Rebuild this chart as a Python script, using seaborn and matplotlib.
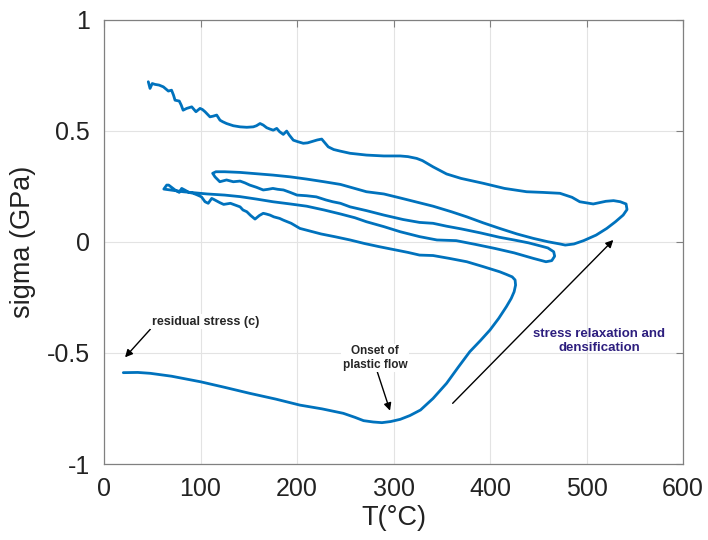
import numpy as np
import pandas as pd
import matplotlib
matplotlib.use("Agg")
import matplotlib.pyplot as plt
import seaborn as sns

# Stress-temperature history of the film, one array pair per thermal leg
heating_1_T = [20, 35, 48, 70, 100, 125, 151, 178, 203, 226, 248, 260, 269, 279, 288,
               297, 307, 317, 328, 341, 355, 367, 379, 390, 400, 409, 417, 422, 425,
               426.5, 426, 423, 417]
heating_1_sigma = [-0.589, -0.588, -0.592, -0.605, -0.630, -0.655, -0.682, -0.708, -0.735,
                   -0.752, -0.772, -0.790, -0.805, -0.811, -0.814, -0.809, -0.799, -0.782,
                   -0.757, -0.705, -0.637, -0.565, -0.495, -0.445, -0.397, -0.345, -0.292,
                   -0.255, -0.225, -0.195, -0.172, -0.158, -0.147]

cooling_1_T = [410, 393, 376, 358, 341, 327, 315, 300, 285, 270, 255, 240, 225, 212, 203,
               194, 186, 182, 176, 172, 168, 165, 161, 156.5, 152, 148, 144, 141, 136, 131,
               127, 124, 120, 117, 114, 111.6, 108, 104.7, 101, 97, 92.5, 88, 84, 80.5,
               78, 75.5, 73.6, 70, 67, 65, 62]
cooling_1_sigma = [-0.135, -0.112, -0.090, -0.075, -0.062, -0.060, -0.048, -0.035, -0.022,
                   -0.008, 0.008, 0.022, 0.035, 0.050, 0.060, 0.083, 0.097, 0.105, 0.112,
                   0.120, 0.125, 0.128, 0.118, 0.102, 0.118, 0.135, 0.143, 0.157, 0.165,
                   0.173, 0.170, 0.168, 0.176, 0.183, 0.190, 0.195, 0.173, 0.180, 0.202,
                   0.210, 0.218, 0.222, 0.232, 0.240, 0.222, 0.228, 0.233, 0.245, 0.255,
                   0.255, 0.237]

heating_2_T = [62, 70, 82, 95, 107, 125, 141, 158, 175, 193, 210, 228, 245, 260, 272, 290,
               307, 327, 345, 365, 385, 405, 425, 445, 458, 464, 467, 466]
heating_2_sigma = [0.237, 0.232, 0.225, 0.220, 0.215, 0.210, 0.203, 0.192, 0.180, 0.170,
                   0.160, 0.143, 0.125, 0.108, 0.090, 0.068, 0.045, 0.023, 0.008, 0.005,
                   -0.012, -0.030, -0.050, -0.075, -0.090, -0.085, -0.065, -0.045]

cooling_2_T = [460, 455, 440, 425, 410, 390, 370, 355, 341, 327, 310, 290, 272, 255, 245,
               237, 230, 220, 210, 200, 193, 186, 180, 175, 170, 165, 158, 151, 146, 141,
               134, 127, 120, 115, 112.6]
cooling_2_sigma = [-0.028, -0.022, -0.005, 0.008, 0.020, 0.040, 0.058, 0.070, 0.083, 0.087,
                   0.100, 0.120, 0.140, 0.157, 0.173, 0.180, 0.188, 0.202, 0.207, 0.210,
                   0.222, 0.233, 0.236, 0.240, 0.236, 0.233, 0.245, 0.255, 0.265, 0.273,
                   0.270, 0.278, 0.270, 0.292, 0.308]

heating_3_T = [116, 125, 141, 158, 175, 193, 210, 228, 245, 272, 290, 307, 327, 341, 360,
               376, 393, 410, 428, 445, 460, 472.5, 478, 487, 497, 510, 521, 530, 538, 542]
heating_3_sigma = [0.315, 0.315, 0.312, 0.306, 0.300, 0.292, 0.282, 0.270, 0.258, 0.225,
                   0.215, 0.197, 0.175, 0.160, 0.135, 0.112, 0.085, 0.060, 0.035, 0.015,
                   0.000, -0.010, -0.015, -0.010, 0.005, 0.030, 0.060, 0.090, 0.120, 0.145]

cooling_3_T = [541, 535, 528, 520, 507, 493, 485, 472.5, 455, 438, 415, 393, 370, 355, 341,
               330, 324, 315, 307, 290, 272, 255, 244.6, 238, 232.4, 225.6, 221, 217, 211,
               206.5, 201, 196.2, 192, 189.3, 185.8, 182, 179, 175.4, 172, 168.6, 165,
               161.7, 158, 154.7, 148, 141, 134, 127, 123, 120.2, 116.8, 113, 109.8, 107,
               104.7, 102, 99.5, 95.3, 90.9, 85.7, 82, 80, 78, 73.6, 72, 70, 66.7, 61.5,
               57, 52.8, 50, 47.7, 45.9]
cooling_3_sigma = [0.170, 0.180, 0.185, 0.182, 0.170, 0.180, 0.200, 0.218, 0.222, 0.225,
                   0.240, 0.263, 0.285, 0.305, 0.337, 0.365, 0.375, 0.383, 0.386, 0.386,
                   0.390, 0.398, 0.408, 0.415, 0.427, 0.462, 0.458, 0.453, 0.445, 0.443,
                   0.450, 0.457, 0.480, 0.498, 0.483, 0.495, 0.510, 0.502, 0.507, 0.513,
                   0.525, 0.532, 0.522, 0.517, 0.515, 0.517, 0.522, 0.532, 0.540, 0.547,
                   0.570, 0.565, 0.562, 0.575, 0.585, 0.595, 0.600, 0.585, 0.607, 0.600,
                   0.592, 0.615, 0.633, 0.637, 0.660, 0.682, 0.678, 0.697, 0.705, 0.708,
                   0.712, 0.690, 0.720]

x_ticks = [0, 100, 200, 300, 400, 500, 600]
y_ticks = [-1, -0.5, 0, 0.5, 1]
y_tick_labels = ["-1", "-0.5", "0", "0.5", "1"]

T_all = (heating_1_T + cooling_1_T + heating_2_T + cooling_2_T + heating_3_T + cooling_3_T)
s_all = (heating_1_sigma + cooling_1_sigma + heating_2_sigma + cooling_2_sigma
         + heating_3_sigma + cooling_3_sigma)
df = pd.DataFrame({"T": T_all, "sigma": s_all})

sns.set_style("white")
plt.rcParams["font.family"] = ["Liberation Sans", "DejaVu Sans"]
plt.rcParams["axes.unicode_minus"] = False

fig = plt.figure(figsize=(7.08, 5.40), dpi=100)
ax = fig.add_axes([104 / 708, 76 / 540, 579 / 708, 444.5 / 540])

line_blue = "#0072BD"
sns.lineplot(data=df, x="T", y="sigma", sort=False, estimator=None,
             color=line_blue, lw=2.0, ax=ax)

ax.set_xlim(0, 600)
ax.set_ylim(-1, 1)
ax.set_xticks(x_ticks)
ax.set_xticklabels([str(v) for v in x_ticks])
ax.set_yticks(y_ticks)
ax.set_yticklabels(y_tick_labels)
ax.grid(True, color="#e3e3e3", lw=0.8)
ax.set_axisbelow(True)
for sp in ax.spines.values():
    sp.set_visible(True)
    sp.set_color("#808080")
    sp.set_linewidth(0.9)
ax.tick_params(axis="both", direction="in", length=5, width=0.8, color="#808080",
               labelsize=18, labelcolor="#222222", top=True, right=True,
               labeltop=False, labelright=False)
ax.tick_params(axis="x", pad=9)
ax.tick_params(axis="y", pad=10)
ax.set_xlabel("T(°C)", fontsize=19.5, color="#222222", labelpad=3)
ax.set_ylabel("sigma (GPa)", fontsize=19.5, color="#222222", labelpad=8)

arrow_kw = dict(arrowstyle="-|>", color="black", lw=1.0, mutation_scale=11,
                shrinkA=0, shrinkB=0)
box_kw = dict(facecolor="white", edgecolor="none", pad=1.0)

ax.annotate("residual stress (c)", xy=(21.8, -0.52), xytext=(49.4, -0.36),
            fontsize=9, fontweight="bold", ha="left", va="center",
            bbox=box_kw, arrowprops=dict(arrow_kw, relpos=(0, 0)))
ax.annotate("Onset of\nplastic flow", xy=(296.4, -0.76), xytext=(280.8, -0.523),
            fontsize=8.5, fontweight="bold", ha="center", va="center",
            linespacing=1.15, bbox=box_kw,
            arrowprops=dict(arrow_kw, relpos=(0.53, 0)))
ax.text(513.3, -0.446, "stress relaxation and\ndensification", fontsize=9.5,
        fontweight="bold", color="#2d1e7e", ha="center", va="center",
        linespacing=1.2)
ax.annotate("", xy=(527.8, 0.008), xytext=(361.3, -0.727), arrowprops=arrow_kw)

fig.savefig("out.png", dpi=100)
